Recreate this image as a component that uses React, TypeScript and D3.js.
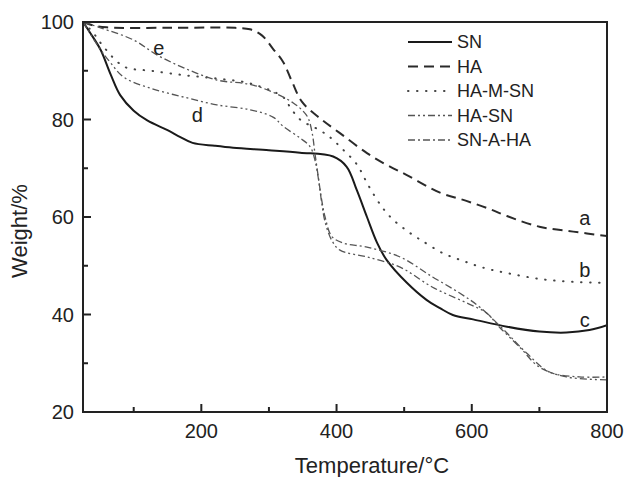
import React from 'react';
import * as d3 from 'd3';

// temperature (°C), weight (%)
const snData: [number, number][] = [
  [25, 100], [36, 97.7], [51, 94.3], [66, 89.2], [80, 85], [100, 81.8], [120, 79.8],
  [150, 77.8], [169, 76.4], [187, 75.2], [220, 74.6], [247, 74.2], [300, 73.7], [346, 73.2],
  [395, 72.4], [415, 70.3], [430, 65.5], [445, 60], [460, 54.7], [474, 51.2], [504, 46.5],
  [533, 43], [553, 41.3], [572, 39.9], [602, 39], [652, 37.5], [700, 36.5], [740, 36.3],
  [774, 36.8], [800, 37.8],
];
const haData: [number, number][] = [
  [25, 100], [40, 99.3], [60, 98.9], [150, 98.8], [250, 98.8], [272, 98.5], [290, 97.2],
  [306, 94.5], [321, 91.8], [334, 87.8], [349, 83.6], [375, 80.3], [405, 77.2], [445, 73.1],
  [474, 70.7], [504, 68.6], [553, 65], [592, 63.3], [627, 61.6], [652, 60.2], [700, 58],
  [750, 57], [800, 56.1],
];
const hamsnData: [number, number][] = [
  [25, 100], [40, 97.8], [51, 95.7], [61, 94], [76, 91.8], [90, 90.6], [125, 90], [174, 89.1],
  [223, 88.4], [272, 87.4], [321, 84.6], [332, 82.4], [346, 80], [375, 77.8], [390, 76.4],
  [409, 73.9], [430, 70.8], [445, 67], [460, 63.5], [472, 61.2], [484, 59.4], [499, 57.7],
  [513, 56.3], [528, 55], [557, 52.6], [587, 51], [617, 49.6], [652, 48.5], [700, 47.3],
  [749, 46.7], [800, 46.5],
];
const hasnData: [number, number][] = [
  [25, 100], [51, 94.3], [66, 91.6], [85, 88.7], [125, 86.4], [174, 84.6], [223, 83],
  [272, 82], [306, 80.5], [321, 78.6], [346, 76.2], [361, 74.4], [368, 71.7], [373, 68],
  [378, 63], [383, 59], [393, 55.2], [405, 53.2], [445, 51.8], [494, 49.7], [542, 45.6],
  [592, 42.4], [622, 40.3], [641, 37.4], [671, 33.3], [700, 29.2], [740, 27.2], [800, 26.6],
];
const snahaData: [number, number][] = [
  [25, 100], [51, 98.8], [100, 96.3], [135, 93.2], [174, 90.6], [223, 88.1], [272, 87.2],
  [306, 85.6], [336, 83.4], [350, 81.8], [358, 80.3], [364, 77.2], [368, 73.1], [373, 68.2],
  [378, 63.5], [383, 60], [393, 56], [409, 54.7], [445, 53.8], [494, 51.8], [542, 47.7],
  [582, 44.4], [612, 41.5], [652, 36.2], [681, 32.1], [715, 28.2], [759, 27.2], [800, 27.2],
];

const seriesNames = ['SN', 'HA', 'HA-M-SN', 'HA-SN', 'SN-A-HA'];
const xTicks = [200, 400, 600, 800];
const xMinor = [100, 300, 500, 700];
const yTicks = [20, 40, 60, 80, 100];
const yMinor = [30, 50, 70, 90];

// curve letters: text, temperature, weight
const curveLabels: [string, number, number][] = [
  ['a', 767, 58.4], ['b', 767, 47.7], ['c', 767, 37.4], ['e', 137, 93.2], ['d', 194, 79.5],
];

const W = 624, H = 477;
const margin = { top: 22, right: 17, bottom: 65, left: 83 };
const font = "'Liberation Sans', Arial, sans-serif";

const styles = [
  { stroke: '#1a1a1a', width: 2, dash: '', cap: 'butt' },
  { stroke: '#2a2a2a', width: 2, dash: '10,6', cap: 'butt' },
  { stroke: '#444', width: 2, dash: '0.5,8.5', cap: 'round' },
  { stroke: '#555', width: 1.3, dash: '7,3,2,3,2,3', cap: 'butt' },
  { stroke: '#555', width: 1.3, dash: '7,3,2,3', cap: 'butt' },
];

export default function App() {
  const x = d3.scaleLinear().domain([25, 800]).range([margin.left, W - margin.right]);
  const y = d3.scaleLinear().domain([20, 100]).range([H - margin.bottom, margin.top]);

  const line = d3.line<[number, number]>()
    .x(d => x(d[0]))
    .y(d => y(d[1]))
    .curve(d3.curveCatmullRom.alpha(0.5));

  const all = [snData, haData, hamsnData, hasnData, snahaData];
  const x0 = margin.left, x1 = W - margin.right, y0 = H - margin.bottom, y1 = margin.top;

  return (
    <svg width={W} height={H} style={{ position: 'absolute', left: 0, top: 0, background: '#fff' }}
      fontFamily={font}>
      <defs>
        <clipPath id="plot"><rect x={x0} y={y1} width={x1 - x0} height={y0 - y1} /></clipPath>
      </defs>
      <g clipPath="url(#plot)">
        {all.map((d, i) => (
          <path key={i} d={line(d) || ''} fill="none" stroke={styles[i].stroke}
            strokeWidth={styles[i].width} strokeDasharray={styles[i].dash}
            strokeLinecap={styles[i].cap as any} />
        ))}
      </g>

      {/* frame */}
      <rect x={x0} y={y1} width={x1 - x0} height={y0 - y1} fill="none" stroke="#222" strokeWidth={2} />

      {/* x ticks */}
      {xTicks.map(t => (
        <g key={t}>
          <line x1={x(t)} x2={x(t)} y1={y0} y2={y0 - 8} stroke="#222" strokeWidth={2} />
          <text x={x(t)} y={y0 + 26} textAnchor="middle" fontSize={20} fill="#222">{t}</text>
        </g>
      ))}
      {xMinor.map(t => (
        <line key={t} x1={x(t)} x2={x(t)} y1={y0} y2={y0 - 5} stroke="#222" strokeWidth={2} />
      ))}

      {/* y ticks */}
      {yTicks.map(t => (
        <g key={t}>
          <line x1={x0} x2={x0 + 8} y1={y(t)} y2={y(t)} stroke="#222" strokeWidth={2} />
          <text x={x0 - 9} y={y(t)} dy="0.36em" textAnchor="end" fontSize={20} fill="#222">{t}</text>
        </g>
      ))}
      {yMinor.map(t => (
        <line key={t} x1={x0} x2={x0 + 5} y1={y(t)} y2={y(t)} stroke="#222" strokeWidth={2} />
      ))}

      {/* axis titles */}
      <text x={372} y={473} textAnchor="middle" fontSize={22} fill="#222">Temperature/°C</text>
      <text transform="translate(27,231) rotate(-90)" textAnchor="middle" fontSize={22} fill="#222">Weight/%</text>

      {/* legend */}
      {seriesNames.map((name, i) => {
        const ly = 42 + i * 24.5;
        return (
          <g key={name}>
            <line x1={408} x2={452} y1={ly} y2={ly} stroke={styles[i].stroke}
              strokeWidth={styles[i].width} strokeDasharray={styles[i].dash}
              strokeLinecap={styles[i].cap as any} />
            <text x={457} y={ly} dy="0.36em" fontSize={18} fill="#222">{name}</text>
          </g>
        );
      })}

      {/* curve letters */}
      {curveLabels.map(([s, t, w]) => (
        <text key={s} x={x(t)} y={y(w)} textAnchor="middle" fontSize={20} fill="#222">{s}</text>
      ))}
    </svg>
  );
}
